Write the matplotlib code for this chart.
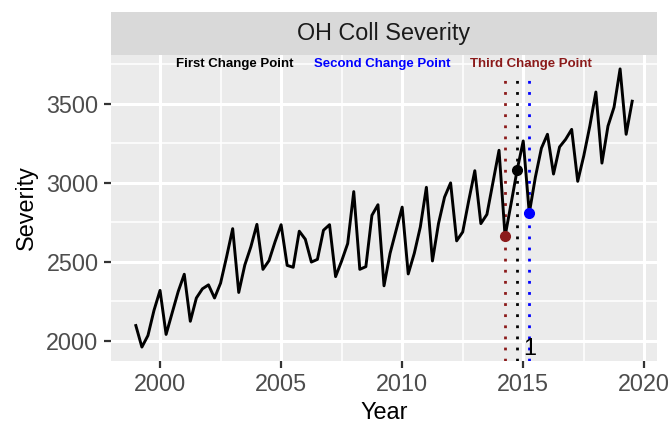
"""
Recreate the 'OH Coll Severity' change-point chart (ggplot look) with matplotlib.
Saves out.png at 672x424.
"""

import numpy as np
import pandas as pd
import matplotlib

matplotlib.use("Agg")
import matplotlib.pyplot as plt
from matplotlib.ticker import MultipleLocator

plt.rcParams["font.family"] = ["Liberation Sans", "DejaVu Sans"]

# quarterly series, 1999Q1 .. 2019Q3
quarters = pd.period_range("1999Q1", "2019Q3", freq="Q")
severity = [
    2098, 1962, 2035, 2194, 2320, 2042, 2178, 2313, 2422, 2125, 2272, 2330,
    2355, 2272, 2366, 2533, 2710, 2307, 2480, 2595, 2737, 2453, 2508, 2627,
    2735, 2478, 2466, 2694, 2643, 2499, 2516, 2700, 2735, 2407, 2506, 2616,
    2944, 2453, 2470, 2794, 2861, 2349, 2554, 2700, 2846, 2424, 2554, 2721,
    2971, 2506, 2742, 2909, 2999, 2633, 2689, 2888, 3076, 2742, 2800, 3003,
    3205, 2662, 2870, 3082, 3264, 2808, 3034, 3218, 3306, 3055, 3226, 3274,
    3337, 3009, 3170, 3358, 3573, 3124, 3358, 3477, 3719, 3306, 3515,
]

# change points (decimal year) and their label text / colour
cp_years = [2014.75, 2015.25, 2014.25]
cp_names = ["First Change Point", "Second Change Point", "Third Change Point"]
cp_colors = ["black", "#0000FF", "#8B1A1A"]
cp_label_x = [2003.1, 2009.17, 2015.3]
label_y = 3750

STRIP_TITLE = "OH Coll Severity"


def main() -> None:
    years = np.array([q.year + (q.quarter - 1) / 4 for q in quarters])
    sev = np.array(severity, dtype=float)

    fig = plt.figure(figsize=(6.72, 4.24), dpi=100)
    ax = fig.add_axes([0.1652, 0.1486, 0.8125, 0.7217])
    ax.set_facecolor("#EBEBEB")
    for s in ax.spines.values():
        s.set_visible(False)

    # ggplot-like 5% expansion
    xr = years.max() - years.min()
    yr = sev.max() - sev.min()
    ax.set_xlim(years.min() - 0.05 * xr, years.max() + 0.05 * xr)
    ax.set_ylim(sev.min() - 0.05 * yr, sev.max() + 0.05 * yr)

    ax.xaxis.set_major_locator(MultipleLocator(5))
    ax.xaxis.set_minor_locator(MultipleLocator(2.5))
    ax.yaxis.set_major_locator(MultipleLocator(500))
    ax.yaxis.set_minor_locator(MultipleLocator(250))
    ax.grid(which="major", color="white", linewidth=2.2)
    ax.grid(which="minor", color="white", linewidth=1.1)
    ax.set_axisbelow(True)
    ax.tick_params(which="major", length=5, width=1.6, color="#333333",
                   labelsize=16.8, labelcolor="#4D4D4D", pad=4)
    ax.tick_params(which="minor", length=0)

    # change point verticals
    ylo = ax.get_ylim()[0]
    for xv, col in zip(cp_years, cp_colors):
        ax.vlines(xv, ylo, 3690, colors=col, linewidth=2.0,
                  linestyles=(0, (1, 3)), zorder=2)

    ax.plot(years, sev, color="black", linewidth=2.1, zorder=3)

    for xv, col in zip(cp_years, cp_colors):
        yv = sev[np.argmin(np.abs(years - xv))]
        ax.plot(xv, yv, "o", color=col, markersize=7, zorder=4)

    for name, col, lx in zip(cp_names, cp_colors, cp_label_x):
        ax.text(lx, label_y, name, color=col, fontsize=9.5, fontweight="bold",
                ha="center", va="center", zorder=5)

    ax.text(cp_years[1], 1950, "1", color="black", fontsize=16.8,
            ha="center", va="center", zorder=5)

    ax.set_xlabel("Year", fontsize=16.8, color="black", labelpad=3)
    ax.set_ylabel("Severity", fontsize=16.8, color="black", labelpad=6)

    # facet strip
    strip = fig.add_axes([0.1652, 0.8703, 0.8125, 0.1014])
    strip.set_facecolor("#D9D9D9")
    strip.set_xticks([])
    strip.set_yticks([])
    for s in strip.spines.values():
        s.set_visible(False)
    strip.text(0.5, 0.5, STRIP_TITLE, ha="center", va="center",
               fontsize=16.8, color="#1A1A1A", transform=strip.transAxes)

    fig.savefig("out.png", dpi=100)
    plt.close(fig)


if __name__ == "__main__":
    main()
